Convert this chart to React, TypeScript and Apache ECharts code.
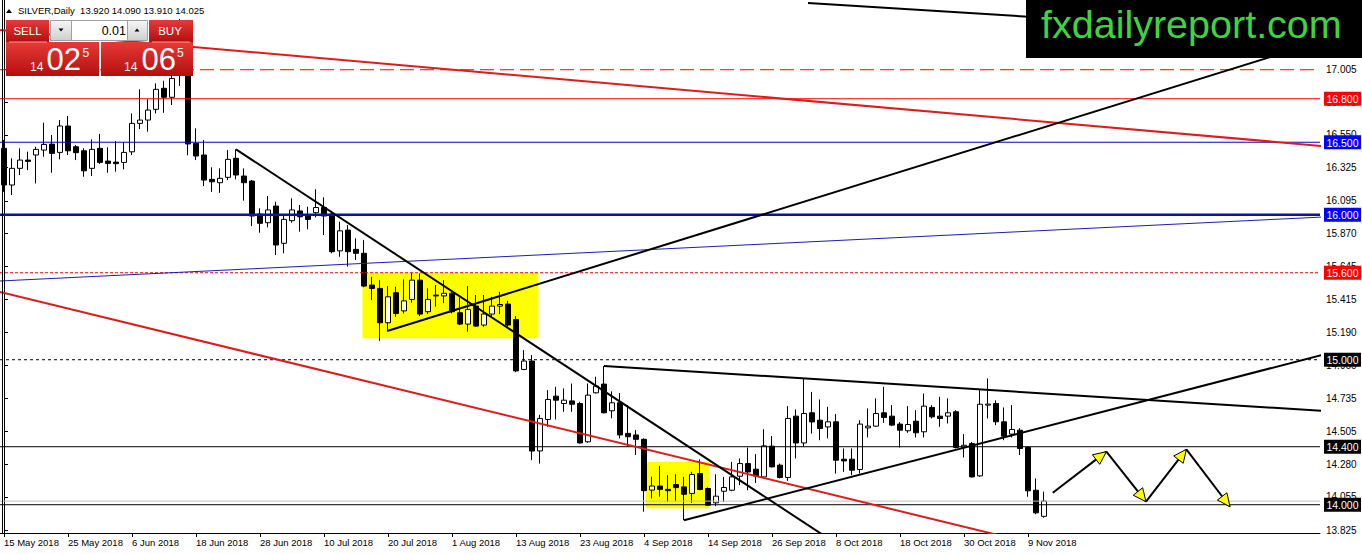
import React, { useEffect, useRef } from 'react';
import * as echarts from 'echarts';

// ---------- categories ----------
const MONTHS = ['Jan', 'Feb', 'Mar', 'Apr', 'May', 'Jun', 'Jul', 'Aug', 'Sep', 'Oct', 'Nov', 'Dec'];
const BAR_COUNT = 131;
const SLOT_COUNT = 165;
const barDates: string[] = [];
for (let d = new Date(Date.UTC(2018, 4, 15)); barDates.length < BAR_COUNT; d.setUTCDate(d.getUTCDate() + 1)) {
  const wd = d.getUTCDay();
  if (wd === 0 || wd === 6) continue;
  barDates.push(`${d.getUTCDate()} ${MONTHS[d.getUTCMonth()]} ${d.getUTCFullYear()}`);
}
const categories: string[] = [...barDates];
while (categories.length < SLOT_COUNT) categories.push('');

// ---------- OHLC ----------
const opens = [
  16.458, 16.205, 16.32, 16.377, 16.412, 16.446, 16.487, 16.43, 16.612, 16.469,
  16.441, 16.32, 16.458, 16.37, 16.363, 16.361, 16.434, 16.63, 16.653, 16.727,
  16.872, 16.81, 17.06, 17.26, 16.492, 16.412, 16.244, 16.221, 16.258, 16.389,
  16.267, 16.232, 16.005, 15.945, 16.06, 15.803, 15.959, 16.026, 15.991, 16.014,
  16.05, 16.005, 15.751, 15.894, 15.761, 15.734, 15.515, 15.492, 15.255, 15.462,
  15.337, 15.416, 15.549, 15.331, 15.446, 15.44, 15.458, 15.324, 15.246, 15.37,
  15.239, 15.315, 15.37, 15.384, 15.278, 14.933, 14.991, 14.371, 14.588, 14.749,
  14.698, 14.716, 14.698, 14.434, 14.772, 14.832, 14.648, 14.703, 14.492, 14.481,
  14.451, 14.101, 14.129, 14.106, 14.139, 14.123, 14.078, 14.215, 14.112, 14.013,
  14.093, 14.10, 14.197, 14.284, 14.245, 14.192, 14.404, 14.273, 14.188, 14.611,
  14.426, 14.634, 14.583, 14.537, 14.572, 14.314, 14.314, 14.243, 14.53, 14.542,
  14.634, 14.611, 14.556, 14.51, 14.576, 14.503, 14.671, 14.611, 14.611, 14.641,
  14.395, 14.422, 14.199, 14.687, 14.698, 14.572, 14.487, 14.514, 14.395, 14.10,
  13.92,
];
const highs = [
  16.515, 16.389, 16.458, 16.435, 16.469, 16.635, 16.55, 16.653, 16.681, 16.481,
  16.458, 16.52, 16.557, 16.465, 16.508, 16.503, 16.699, 16.865, 16.796, 16.906,
  16.924, 17.05, 17.35, 17.30, 16.596, 16.515, 16.327, 16.32, 16.446, 16.451,
  16.32, 16.24, 16.044, 16.129, 16.09, 15.998, 16.113, 16.067, 16.055, 16.176,
  16.12, 16.021, 15.952, 15.929, 15.837, 15.825, 15.572, 15.549, 15.508, 15.503,
  15.554, 15.60, 15.595, 15.493, 15.515, 15.549, 15.469, 15.429, 15.508, 15.446,
  15.446, 15.434, 15.469, 15.406, 15.301, 15.066, 15.032, 14.62, 14.79, 14.813,
  14.802, 14.836, 14.71, 14.836, 14.883, 14.957, 14.782, 14.77, 14.687, 14.515,
  14.458, 14.194, 14.268, 14.204, 14.21, 14.192, 14.227, 14.312, 14.119, 14.21,
  14.192, 14.295, 14.319, 14.394, 14.349, 14.521, 14.473, 14.284, 14.68, 14.657,
  14.871, 14.778, 14.726, 14.675, 14.625, 14.388, 14.388, 14.583, 14.664, 14.733,
  14.813, 14.687, 14.57, 14.68, 14.652, 14.767, 14.687, 14.744, 14.733, 14.652,
  14.487, 14.433, 14.79, 14.871, 14.72, 14.671, 14.687, 14.528, 14.404, 14.181,
  14.09,
];
const lows = [
  16.158, 16.136, 16.274, 16.308, 16.216, 16.40, 16.29, 16.382, 16.412, 16.377,
  16.262, 16.267, 16.35, 16.29, 16.297, 16.313, 16.412, 16.591, 16.573, 16.699,
  16.703, 16.757, 16.888, 16.41, 16.377, 16.198, 16.158, 16.151, 16.239, 16.244,
  16.097, 15.922, 15.876, 15.913, 15.722, 15.734, 15.945, 15.883, 15.90, 15.982,
  15.86, 15.734, 15.71, 15.643, 15.688, 15.50, 15.411, 15.13, 15.193, 15.296,
  15.319, 15.393, 15.301, 15.315, 15.366, 15.39, 15.319, 15.239, 15.193, 15.227,
  15.227, 15.296, 15.315, 15.227, 14.914, 14.928, 14.307, 14.284, 14.537, 14.588,
  14.641, 14.641, 14.422, 14.427, 14.767, 14.63, 14.596, 14.458, 14.40, 14.343,
  13.952, 14.043, 14.055, 14.02, 14.026, 13.893, 14.013, 14.10, 13.997, 13.99,
  14.02, 14.093, 14.135, 14.10, 14.15, 14.181, 14.257, 14.181, 14.164, 14.319,
  14.40, 14.491, 14.445, 14.457, 14.215, 14.227, 14.204, 14.215, 14.464, 14.537,
  14.565, 14.542, 14.394, 14.496, 14.464, 14.464, 14.595, 14.537, 14.56, 14.388,
  14.326, 14.188, 14.192, 14.595, 14.549, 14.445, 14.464, 14.343, 14.055, 13.935,
  13.91,
];
const closes = [
  16.205, 16.32, 16.377, 16.368, 16.451, 16.485, 16.423, 16.612, 16.441, 16.428,
  16.303, 16.451, 16.361, 16.354, 16.352, 16.43, 16.63, 16.653, 16.722, 16.865,
  16.81, 16.94, 17.28, 16.488, 16.405, 16.239, 16.227, 16.251, 16.382, 16.274,
  16.221, 15.991, 15.941, 16.033, 15.791, 15.968, 16.033, 15.986, 15.968, 16.05,
  15.991, 15.745, 15.889, 15.745, 15.734, 15.508, 15.492, 15.255, 15.434, 15.319,
  15.406, 15.549, 15.315, 15.416, 15.44, 15.458, 15.331, 15.246, 15.347, 15.232,
  15.315, 15.37, 15.381, 15.239, 14.923, 14.991, 14.37, 14.595, 14.726, 14.721,
  14.721, 14.693, 14.426, 14.756, 14.818, 14.634, 14.703, 14.481, 14.469, 14.451,
  14.097, 14.129, 14.106, 14.097, 14.118, 14.072, 14.208, 14.105, 13.997, 14.059,
  14.119, 14.192, 14.284, 14.226, 14.197, 14.406, 14.261, 14.188, 14.595, 14.426,
  14.629, 14.571, 14.526, 14.572, 14.307, 14.302, 14.238, 14.556, 14.542, 14.629,
  14.602, 14.549, 14.514, 14.553, 14.496, 14.68, 14.606, 14.595, 14.634, 14.395,
  14.41, 14.192, 14.693, 14.694, 14.572, 14.473, 14.519, 14.388, 14.096, 13.944,
  14.025,
];

// ---------- axis ticks ----------
const yTicks = [13.825, 14.055, 14.28, 14.505, 14.735, 14.96, 15.19, 15.415, 15.645, 15.87, 16.095, 16.325, 16.55, 16.775, 17.005];
const Y_MIN = 13.805;
const Y_MAX = 17.481;

// ---------- horizontal levels ----------
const levelPrices = [17.0, 16.8, 16.5, 16.0, 15.6, 15.0, 14.4, 14.0, 14.025];
const levelLabels = ['', '16.800', '16.500', '16.000', '15.600', '15.000', '14.400', '14.000', ''];

// ---------- trend lines: [index0, price0, index1, price1] ----------
const redUpperLine = [-0.5, 17.274, 164.75, 16.474];
const redLowerLine = [-0.5, 15.467, 164.75, 13.247];
const blueSlopeLine = [-0.5, 15.543, 164.75, 15.984];
const blackRiseLine = [48, 15.2, 164.75, 17.198];
const blackFallLine = [29, 16.451, 110, 13.515];
const blackResistLine = [75, 14.957, 164.75, 14.648];
const blackSupportLine = [85, 13.893, 164.75, 15.033];
const blackTopLine = [100.5, 17.46, 164.75, 17.24];

// ---------- yellow boxes: [index0, priceTop, index1, priceBottom] ----------
const yellowBoxes = [
  [44.8, 15.6, 66.8, 15.148],
  [80.2, 14.297, 88.1, 13.975],
];

// ---------- zigzag arrows ----------
const zigzagPoints = [
  [131.1, 14.083],
  [137.8, 14.366],
  [142.75, 14.021],
  [147.8, 14.382],
  [153.25, 13.986],
];

const FONT = 'Liberation Sans';

function buildOption() {
  const candleData = opens.map((o, i) => [o, closes[i], lows[i], highs[i]]);
  const labelInterval = (index: number) => index % 8 === 0 && index <= 128;
  const X_LEFT = -0.5;
  const X_RIGHT = SLOT_COUNT - 0.5;

  const trend = (pts: number[], color: string, width: number, type: any = 'solid', z = 4) => ({
    type: 'line',
    xAxisIndex: 1,
    yAxisIndex: 0,
    data: [[pts[0], pts[1]], [pts[2], pts[3]]],
    symbol: 'none',
    clip: true,
    silent: true,
    z,
    lineStyle: { color, width, type },
  });

  const levelStyles: any[] = [
    { color: '#ff0000', width: 1, type: [14, 6] },
    { color: '#ff0000', width: 1, type: 'solid' },
    { color: '#0000c8', width: 1, type: 'solid' },
    { color: '#0a14a0', width: 2.5, type: 'solid' },
    { color: '#ff0000', width: 1, type: [3, 2] },
    { color: '#000000', width: 1, type: [3, 3] },
    { color: '#000000', width: 1, type: 'solid' },
    { color: '#000000', width: 1, type: 'solid' },
    { color: '#c0c0c0', width: 1, type: 'solid' },
  ];
  const badgeBg = ['', '#ff0000', '#0000ff', '#0000ff', '#ff0000', '#000000', '#000000', '#000000', ''];

  const levelSeries = levelPrices.map((p, i) =>
    trend([X_LEFT, p, X_RIGHT, p], levelStyles[i].color, levelStyles[i].width, levelStyles[i].type, 3)
  );

  const badgeData = levelPrices
    .map((p, i) => [X_RIGHT, p, i])
    .filter((d) => levelLabels[d[2]] !== '');

  const arrowSegments = zigzagPoints.slice(0, -1).map((p, i) => [p[0], p[1], zigzagPoints[i + 1][0], zigzagPoints[i + 1][1]]);

  const redGrad = () =>
    new echarts.graphic.LinearGradient(0, 0, 0, 1, [
      { offset: 0, color: '#e63a36' },
      { offset: 1, color: '#b30f0f' },
    ]);
  const grayGrad = () =>
    new echarts.graphic.LinearGradient(0, 0, 0, 1, [
      { offset: 0, color: '#f6f6f6' },
      { offset: 1, color: '#cfcfcf' },
    ]);

  const txt = (text: string, x: number, y: number, size: number, fill: string, align = 'left') => ({
    type: 'text',
    x,
    y,
    z: 101,
    style: { text, fill, fontSize: size, fontFamily: FONT, align, verticalAlign: 'middle' },
  });

  const graphic: any[] = [
    { type: 'line', z: 50, shape: { x1: 2.5, y1: 0, x2: 2.5, y2: 533 }, style: { stroke: '#000', lineWidth: 1 } },
    // header
    { type: 'polygon', z: 100, shape: { points: [[6, 13], [12, 13], [9, 9]] }, style: { fill: '#000' } },
    txt('SILVER,Daily  13.920 14.090 13.910 14.025', 18, 10.5, 9.5, '#000'),
    // sell
    { type: 'rect', z: 100, shape: { x: 6, y: 20, width: 43, height: 22 }, style: { fill: redGrad() } },
    { type: 'rect', z: 100, shape: { x: 6, y: 42, width: 93, height: 34 }, style: { fill: redGrad() } },
    { type: 'line', z: 101, shape: { x1: 9, y1: 42, x2: 47, y2: 42 }, style: { stroke: '#f29a9a', lineWidth: 1 } },
    txt('SELL', 27.5, 31, 11.5, '#fff', 'center'),
    // lot box
    { type: 'rect', z: 100, shape: { x: 50.5, y: 20.5, width: 21, height: 20 }, style: { fill: grayGrad(), stroke: '#a0a0a0', lineWidth: 1 } },
    { type: 'polygon', z: 101, shape: { points: [[58.5, 28.5], [63.5, 28.5], [61, 31.5]] }, style: { fill: '#000' } },
    { type: 'rect', z: 100, shape: { x: 71.5, y: 20.5, width: 56, height: 20 }, style: { fill: '#fff', stroke: '#a0a0a0', lineWidth: 1 } },
    txt('0.01', 126, 30.5, 12.5, '#000', 'right'),
    { type: 'rect', z: 100, shape: { x: 127.5, y: 20.5, width: 20, height: 20 }, style: { fill: grayGrad(), stroke: '#a0a0a0', lineWidth: 1 } },
    { type: 'polygon', z: 101, shape: { points: [[134.5, 31.5], [139.5, 31.5], [137, 28.5]] }, style: { fill: '#000' } },
    // buy
    { type: 'rect', z: 100, shape: { x: 149, y: 20, width: 44, height: 22 }, style: { fill: redGrad() } },
    { type: 'rect', z: 100, shape: { x: 101, y: 42, width: 92, height: 34 }, style: { fill: redGrad() } },
    { type: 'line', z: 101, shape: { x1: 152, y1: 42, x2: 190, y2: 42 }, style: { stroke: '#f29a9a', lineWidth: 1 } },
    txt('BUY', 170, 31, 11.5, '#fff', 'center'),
    // prices
    txt('14', 30, 66.5, 12, '#fff'),
    txt('02', 46.5, 59, 31, '#fff'),
    txt('5', 82.5, 52.5, 12, '#fff'),
    txt('14', 124, 66.5, 12, '#fff'),
    txt('06', 141.5, 59, 31, '#fff'),
    txt('5', 177, 52.5, 12, '#fff'),
    // logo
    { type: 'rect', z: 100, shape: { x: 1026, y: 0, width: 336, height: 58 }, style: { fill: '#000' } },
    {
      type: 'text',
      x: 1041,
      y: 24,
      z: 101,
      style: { text: 'fxdailyreport.com', fill: '#3fd43f', fontSize: 39.5, fontFamily: FONT, verticalAlign: 'middle' },
    },
  ];

  return {
    animation: false,
    backgroundColor: '#ffffff',
    grid: { left: 0, right: 42, top: 0, bottom: 21 },
    xAxis: [
      {
        type: 'category',
        data: categories,
        boundaryGap: true,
        axisLine: { show: true, lineStyle: { color: '#000', width: 1 } },
        axisTick: { show: true, interval: labelInterval, alignWithLabel: true, length: 4, lineStyle: { color: '#000' } },
        axisLabel: { interval: labelInterval, align: 'left', color: '#000', fontSize: 9.5, fontFamily: FONT, margin: 4 },
        splitLine: { show: false },
      },
      { type: 'value', min: X_LEFT, max: X_RIGHT, show: false, splitLine: { show: false } },
    ],
    yAxis: [
      {
        type: 'value',
        position: 'right',
        min: Y_MIN,
        max: Y_MAX,
        splitLine: { show: false },
        axisLine: { show: true, lineStyle: { color: '#000', width: 1 } },
        axisTick: { show: true, customValues: yTicks, length: 4, lineStyle: { color: '#000' } },
        axisLabel: {
          customValues: yTicks,
          formatter: (v: number) => v.toFixed(3),
          color: '#000',
          fontSize: 10,
          fontFamily: FONT,
          margin: 6,
        },
      },
    ],
    series: [
      {
        type: 'custom',
        xAxisIndex: 1,
        yAxisIndex: 0,
        z: 1,
        silent: true,
        data: yellowBoxes,
        encode: { x: [0, 2], y: [1, 3] },
        renderItem: (params: any, api: any) => {
          const a = api.coord([api.value(0), api.value(1)]);
          const b = api.coord([api.value(2), api.value(3)]);
          return {
            type: 'rect',
            shape: { x: Math.min(a[0], b[0]), y: Math.min(a[1], b[1]), width: Math.abs(b[0] - a[0]), height: Math.abs(b[1] - a[1]) },
            style: { fill: '#ffff00' },
          };
        },
      },
      {
        type: 'candlestick',
        xAxisIndex: 0,
        yAxisIndex: 0,
        z: 2,
        barWidth: 5,
        silent: true,
        data: candleData,
        itemStyle: { color: '#ffffff', color0: '#000000', borderColor: '#000000', borderColor0: '#000000', borderWidth: 1 },
      },
      ...levelSeries,
      trend(redUpperLine, '#dd1c1c', 2),
      trend(redLowerLine, '#dd1c1c', 2),
      trend(blueSlopeLine, '#1c1cb4', 1),
      trend(blackRiseLine, '#000', 2),
      trend(blackFallLine, '#000', 2),
      trend(blackResistLine, '#000', 2),
      trend(blackSupportLine, '#000', 2),
      trend(blackTopLine, '#000', 2),
      {
        type: 'custom',
        xAxisIndex: 1,
        yAxisIndex: 0,
        z: 5,
        silent: true,
        data: arrowSegments,
        encode: { x: [0, 2], y: [1, 3] },
        renderItem: (params: any, api: any) => {
          const a = api.coord([api.value(0), api.value(1)]);
          const b = api.coord([api.value(2), api.value(3)]);
          const dx = b[0] - a[0];
          const dy = b[1] - a[1];
          const len = Math.hypot(dx, dy) || 1;
          const ux = dx / len;
          const uy = dy / len;
          const L = 13;
          const W = 6;
          const bx = b[0] - ux * L;
          const by = b[1] - uy * L;
          return {
            type: 'group',
            children: [
              { type: 'line', shape: { x1: a[0], y1: a[1], x2: b[0], y2: b[1] }, style: { stroke: '#000', lineWidth: 2 } },
              {
                type: 'polygon',
                shape: { points: [[b[0], b[1]], [bx - uy * W, by + ux * W], [bx + uy * W, by - ux * W]] },
                style: { fill: '#ffff00', stroke: '#000', lineWidth: 1 },
              },
            ],
          };
        },
      },
      {
        type: 'custom',
        xAxisIndex: 1,
        yAxisIndex: 0,
        z: 20,
        silent: true,
        clip: false,
        data: badgeData,
        encode: { x: 0, y: 1 },
        renderItem: (params: any, api: any) => {
          const p = api.coord([api.value(0), api.value(1)]);
          const idx = api.value(2);
          return {
            type: 'group',
            children: [
              { type: 'rect', shape: { x: p[0] + 4, y: p[1] - 7, width: 37, height: 14 }, style: { fill: badgeBg[idx] } },
              {
                type: 'text',
                x: p[0] + 22.5,
                y: p[1] + 0.5,
                style: { text: levelLabels[idx], fill: '#fff', fontSize: 10.5, fontFamily: FONT, align: 'center', verticalAlign: 'middle' },
              },
            ],
          };
        },
      },
    ],
    graphic,
  };
}

export default function App() {
  const ref = useRef<HTMLDivElement>(null);
  useEffect(() => {
    if (!ref.current) return;
    const chart = echarts.init(ref.current, null, { renderer: 'svg' });
    chart.setOption(buildOption() as any);
    return () => chart.dispose();
  }, []);
  return (
    <div
      ref={ref}
      style={{ position: 'absolute', left: 0, top: 0, width: 1362, height: 554, background: '#ffffff' }}
    />
  );
}
